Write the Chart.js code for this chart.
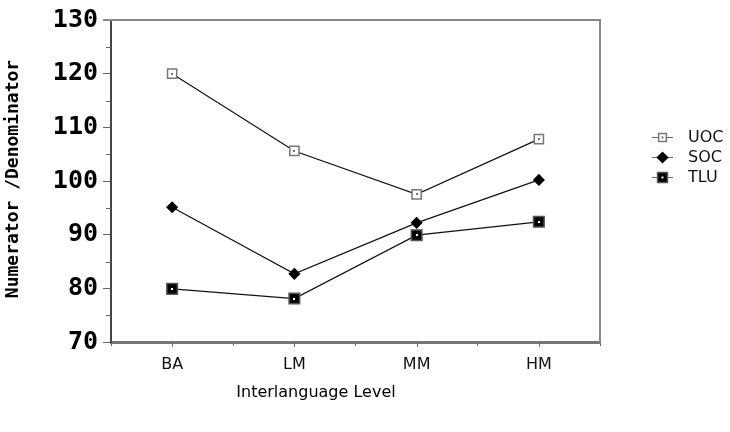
<!DOCTYPE html>
<html>
<head>
<meta charset="utf-8">
<script src="https://cdn.jsdelivr.net/npm/chart.js@4"></script>
<style>
  html, body { margin: 0; padding: 0; background: #fff; }
  #wrap { width: 730px; height: 432px; position: relative; }
</style>
</head>
<body>
<div id="wrap"><canvas id="chart"></canvas></div>
<script>
// data
const levels = ["BA", "LM", "MM", "HM"];
const uoc = [120.0, 105.6, 97.5, 107.8];
const soc = [95.1, 82.7, 92.2, 100.2];
const tlu = [79.9, 78.1, 89.9, 92.4];
const seriesNames = ["UOC", "SOC", "TLU"];
const yMin = 70, yMax = 130, yStep = 10;
const yTitle = "Numerator /Denominator";
const xTitle = "Interlanguage Level";

const sansFont = "'DejaVu Sans', sans-serif";
const monoFont = "'DejaVu Sans Mono', monospace";

// the box, minor ticks, centre dots, legend and titles
const extras = {
  id: "extras",
  afterDatasetsDraw(chart) {
    const ctx = chart.ctx;
    const area = chart.chartArea;
    const x = chart.scales.x, y = chart.scales.y;
    ctx.save();

    // top and right edges of the frame
    ctx.strokeStyle = "#888";
    ctx.lineWidth = 2;
    ctx.beginPath();
    ctx.moveTo(area.left - 8, area.top);
    ctx.lineTo(area.right, area.top);
    ctx.lineTo(area.right, area.bottom);
    ctx.stroke();

    // minor y ticks at the fives
    ctx.strokeStyle = "#666";
    ctx.lineWidth = 1;
    for (let v = yMin + yStep / 2; v < yMax; v += yStep) {
      const py = Math.round(y.getPixelForValue(v)) + 0.5;
      ctx.beginPath();
      ctx.moveTo(area.left - 5, py);
      ctx.lineTo(area.left, py);
      ctx.stroke();
    }
    // x ticks under each category
    levels.forEach((_, i) => {
      const px = Math.round(x.getPixelForValue(i)) + 0.5;
      ctx.beginPath();
      ctx.moveTo(px, area.bottom);
      ctx.lineTo(px, area.bottom + 5);
      ctx.stroke();
    });

    // small dots in the middle of the square markers
    [[0, "#777"], [2, "#fff"]].forEach(([di, col]) => {
      chart.getDatasetMeta(di).data.forEach(pt => {
        ctx.fillStyle = col;
        ctx.fillRect(Math.round(pt.x) - 1, Math.round(pt.y) - 1, 2, 2);
      });
    });

    // legend
    chart.data.datasets.forEach((ds, i) => {
      const ly = 137 + i * 20;
      ctx.strokeStyle = "#666";
      ctx.lineWidth = 1;
      ctx.beginPath();
      ctx.moveTo(652, ly + 0.5);
      ctx.lineTo(673, ly + 0.5);
      ctx.stroke();
      ctx.fillStyle = ds.pointBackgroundColor;
      ctx.strokeStyle = ds.pointBorderColor;
      ctx.lineWidth = ds.pointBorderWidth;
      Chart.helpers.drawPoint(ctx, {
        pointStyle: ds.pointStyle,
        radius: ds.legendRadius,
        borderWidth: ds.pointBorderWidth,
        rotation: 0
      }, 662.5, ly + 0.5);
      if (i !== 1) {
        ctx.fillStyle = i === 0 ? "#777" : "#fff";
        ctx.fillRect(661.5, ly - 0.5, 2, 2);
      }
      ctx.fillStyle = "#111";
      ctx.font = "16px " + sansFont;
      ctx.textAlign = "left";
      ctx.textBaseline = "middle";
      ctx.fillText(ds.label, 688, ly + 1);
    });

    // axis titles
    ctx.fillStyle = "#000";
    ctx.font = "16px " + sansFont;
    ctx.textAlign = "center";
    ctx.textBaseline = "middle";
    ctx.fillText(xTitle, 316, 393);

    ctx.save();
    ctx.translate(13, 179);
    ctx.rotate(-Math.PI / 2);
    ctx.font = "bold 18px " + monoFont;
    ctx.fillText(yTitle, 0, 0);
    ctx.restore();

    ctx.restore();
  }
};

const lineDs = (label, data, style, radius, bg, border, legendRadius) => ({
  label: label,
  data: data,
  borderColor: "#111",
  borderWidth: 1.2,
  pointStyle: style,
  pointRadius: radius,
  pointHoverRadius: radius,
  pointBackgroundColor: bg,
  pointBorderColor: border,
  pointBorderWidth: 1.5,
  legendRadius: legendRadius,
  tension: 0,
  fill: false
});

new Chart(document.getElementById("chart"), {
  type: "line",
  data: {
    labels: levels,
    datasets: [
      lineDs(seriesNames[0], uoc, "rect", 6.5, "#fff", "#777", 5.5),
      lineDs(seriesNames[1], soc, "rectRot", 5, "#000", "#000", 5),
      lineDs(seriesNames[2], tlu, "rect", 7.5, "#000", "#555", 7)
    ]
  },
  options: {
    responsive: true,
    maintainAspectRatio: false,
    animation: false,
    layout: { padding: { left: 0, right: 130, top: 15, bottom: 0 } },
    plugins: {
      legend: { display: false },
      tooltip: { enabled: false }
    },
    scales: {
      x: {
        offset: true,
        grid: {
          offset: true,
          drawOnChartArea: false,
          tickLength: 4,
          color: "#666",
          lineWidth: 1
        },
        border: { color: "#777", width: 3 },
        ticks: {
          color: "#111",
          font: { family: sansFont, size: 16 },
          padding: 9,
          maxRotation: 0
        },
        afterFit: s => { s.height = 90; }
      },
      y: {
        min: yMin,
        max: yMax,
        grid: {
          drawOnChartArea: false,
          tickLength: 8,
          color: "#666",
          lineWidth: 1
        },
        border: { color: "#444", width: 2 },
        ticks: {
          stepSize: yStep,
          color: "#000",
          font: { family: monoFont, size: 25, weight: "bold" },
          padding: 5
        },
        afterFit: s => { s.width = 111; }
      }
    }
  },
  plugins: [extras]
});
</script>
</body>
</html>
